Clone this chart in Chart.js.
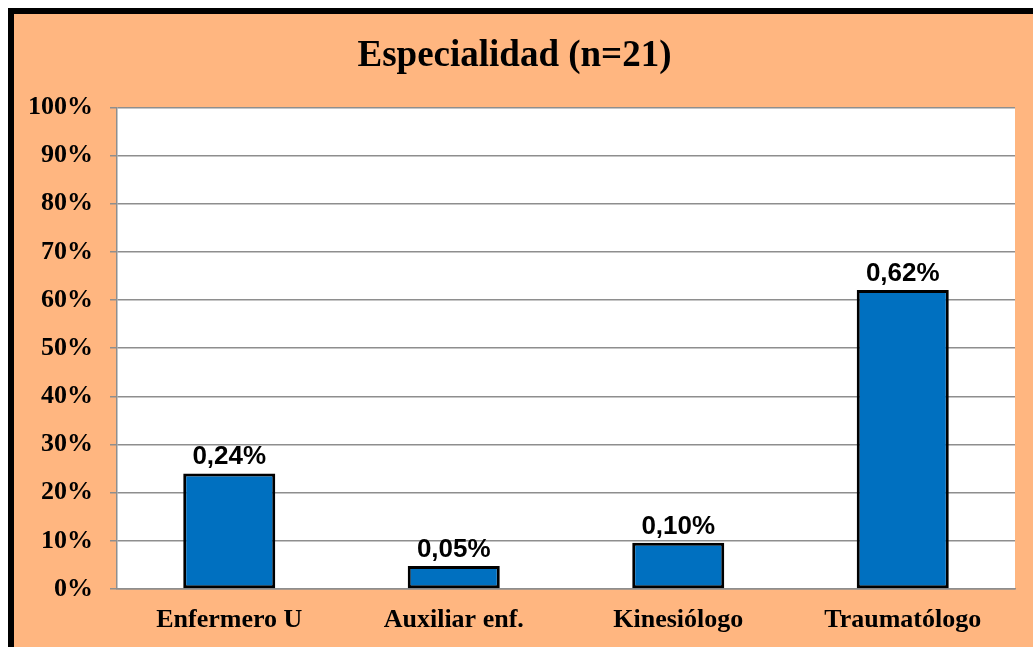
<!DOCTYPE html>
<html>
<head>
<meta charset="utf-8">
<script src="https://cdn.jsdelivr.net/npm/chart.js@4/dist/chart.umd.min.js"></script>
<style>
  html, body { margin: 0; padding: 0; background: #ffffff; overflow: hidden; }
  #frame {
    position: absolute; left: 8px; top: 8px;
    width: 1100px; height: 700px;
    border-left: 6px solid #000; border-top: 6px solid #000;
    background: #FFB680;
  }
  #c { position: absolute; left: 0; top: 0; }
</style>
</head>
<body>
<div id="frame"><canvas id="c" width="1019" height="633"></canvas></div>
<script>
const categories = ['Enfermero U', 'Auxiliar enf.', 'Kinesiólogo', 'Traumatólogo'];
const values = [24.0, 4.8, 9.6, 62.1];
const valueLabels = ['0,24%', '0,05%', '0,10%', '0,62%'];
const yTicks = [0, 10, 20, 30, 40, 50, 60, 70, 80, 90, 100];
const titleText = 'Especialidad (n=21)';

const serif = '"Liberation Serif", "Times New Roman", serif';
const sans = '"Liberation Sans", Arial, sans-serif';

const plotBg = {
  id: 'plotBg',
  beforeDraw(chart) {
    const { ctx, chartArea: a } = chart;
    ctx.save();
    ctx.fillStyle = '#ffffff';
    ctx.fillRect(a.left, a.top, a.right - a.left, a.bottom - a.top);
    ctx.restore();
  }
};

const barLabels = {
  id: 'barLabels',
  afterDatasetsDraw(chart) {
    const { ctx } = chart;
    const meta = chart.getDatasetMeta(0);
    ctx.save();
    ctx.font = 'bold 26px ' + sans;
    ctx.fillStyle = '#000';
    ctx.textAlign = 'center';
    ctx.textBaseline = 'alphabetic';
    meta.data.forEach((bar, i) => {
      ctx.fillText(valueLabels[i], bar.x, bar.y - 9);
    });
    ctx.restore();
  }
};

new Chart(document.getElementById('c'), {
  type: 'bar',
  data: {
    labels: categories,
    datasets: [{
      data: values,
      backgroundColor: '#0070C0',
      borderColor: '#000000',
      borderWidth: 3,
      borderSkipped: false,
      barPercentage: 0.5125,
      categoryPercentage: 0.8
    }]
  },
  options: {
    responsive: false,
    animation: false,
    layout: { padding: { left: 0, right: 18, top: 0, bottom: 0 } },
    plugins: {
      legend: { display: false },
      tooltip: { enabled: false },
      title: {
        display: true,
        text: titleText,
        color: '#000',
        font: { family: serif, size: 37, weight: 'bold' },
        padding: { top: 20, bottom: 29 }
      }
    },
    scales: {
      x: {
        grid: { display: false, drawTicks: false },
        border: { display: true, color: '#8E8E8E', width: 1.5 },
        ticks: {
          color: '#000',
          font: { family: serif, size: 26, weight: 'bold' },
          padding: 16,
          maxRotation: 0
        },
        afterFit(scale) { scale.height = 58; }
      },
      y: {
        min: 0, max: 100,
        afterBuildTicks(scale) { scale.ticks = yTicks.map(v => ({ value: v })); },
        grid: { color: '#8E8E8E', lineWidth: 1.5, drawTicks: true, tickLength: 7 },
        border: { display: true, color: '#8E8E8E', width: 1.5 },
        ticks: {
          color: '#000',
          font: { family: serif, size: 26, weight: 'bold' },
          padding: 17,
          callback: (v) => v + '%'
        },
        afterFit(scale) { scale.width = 103; }
      }
    }
  },
  plugins: [plotBg, barLabels]
});
</script>
</body>
</html>
